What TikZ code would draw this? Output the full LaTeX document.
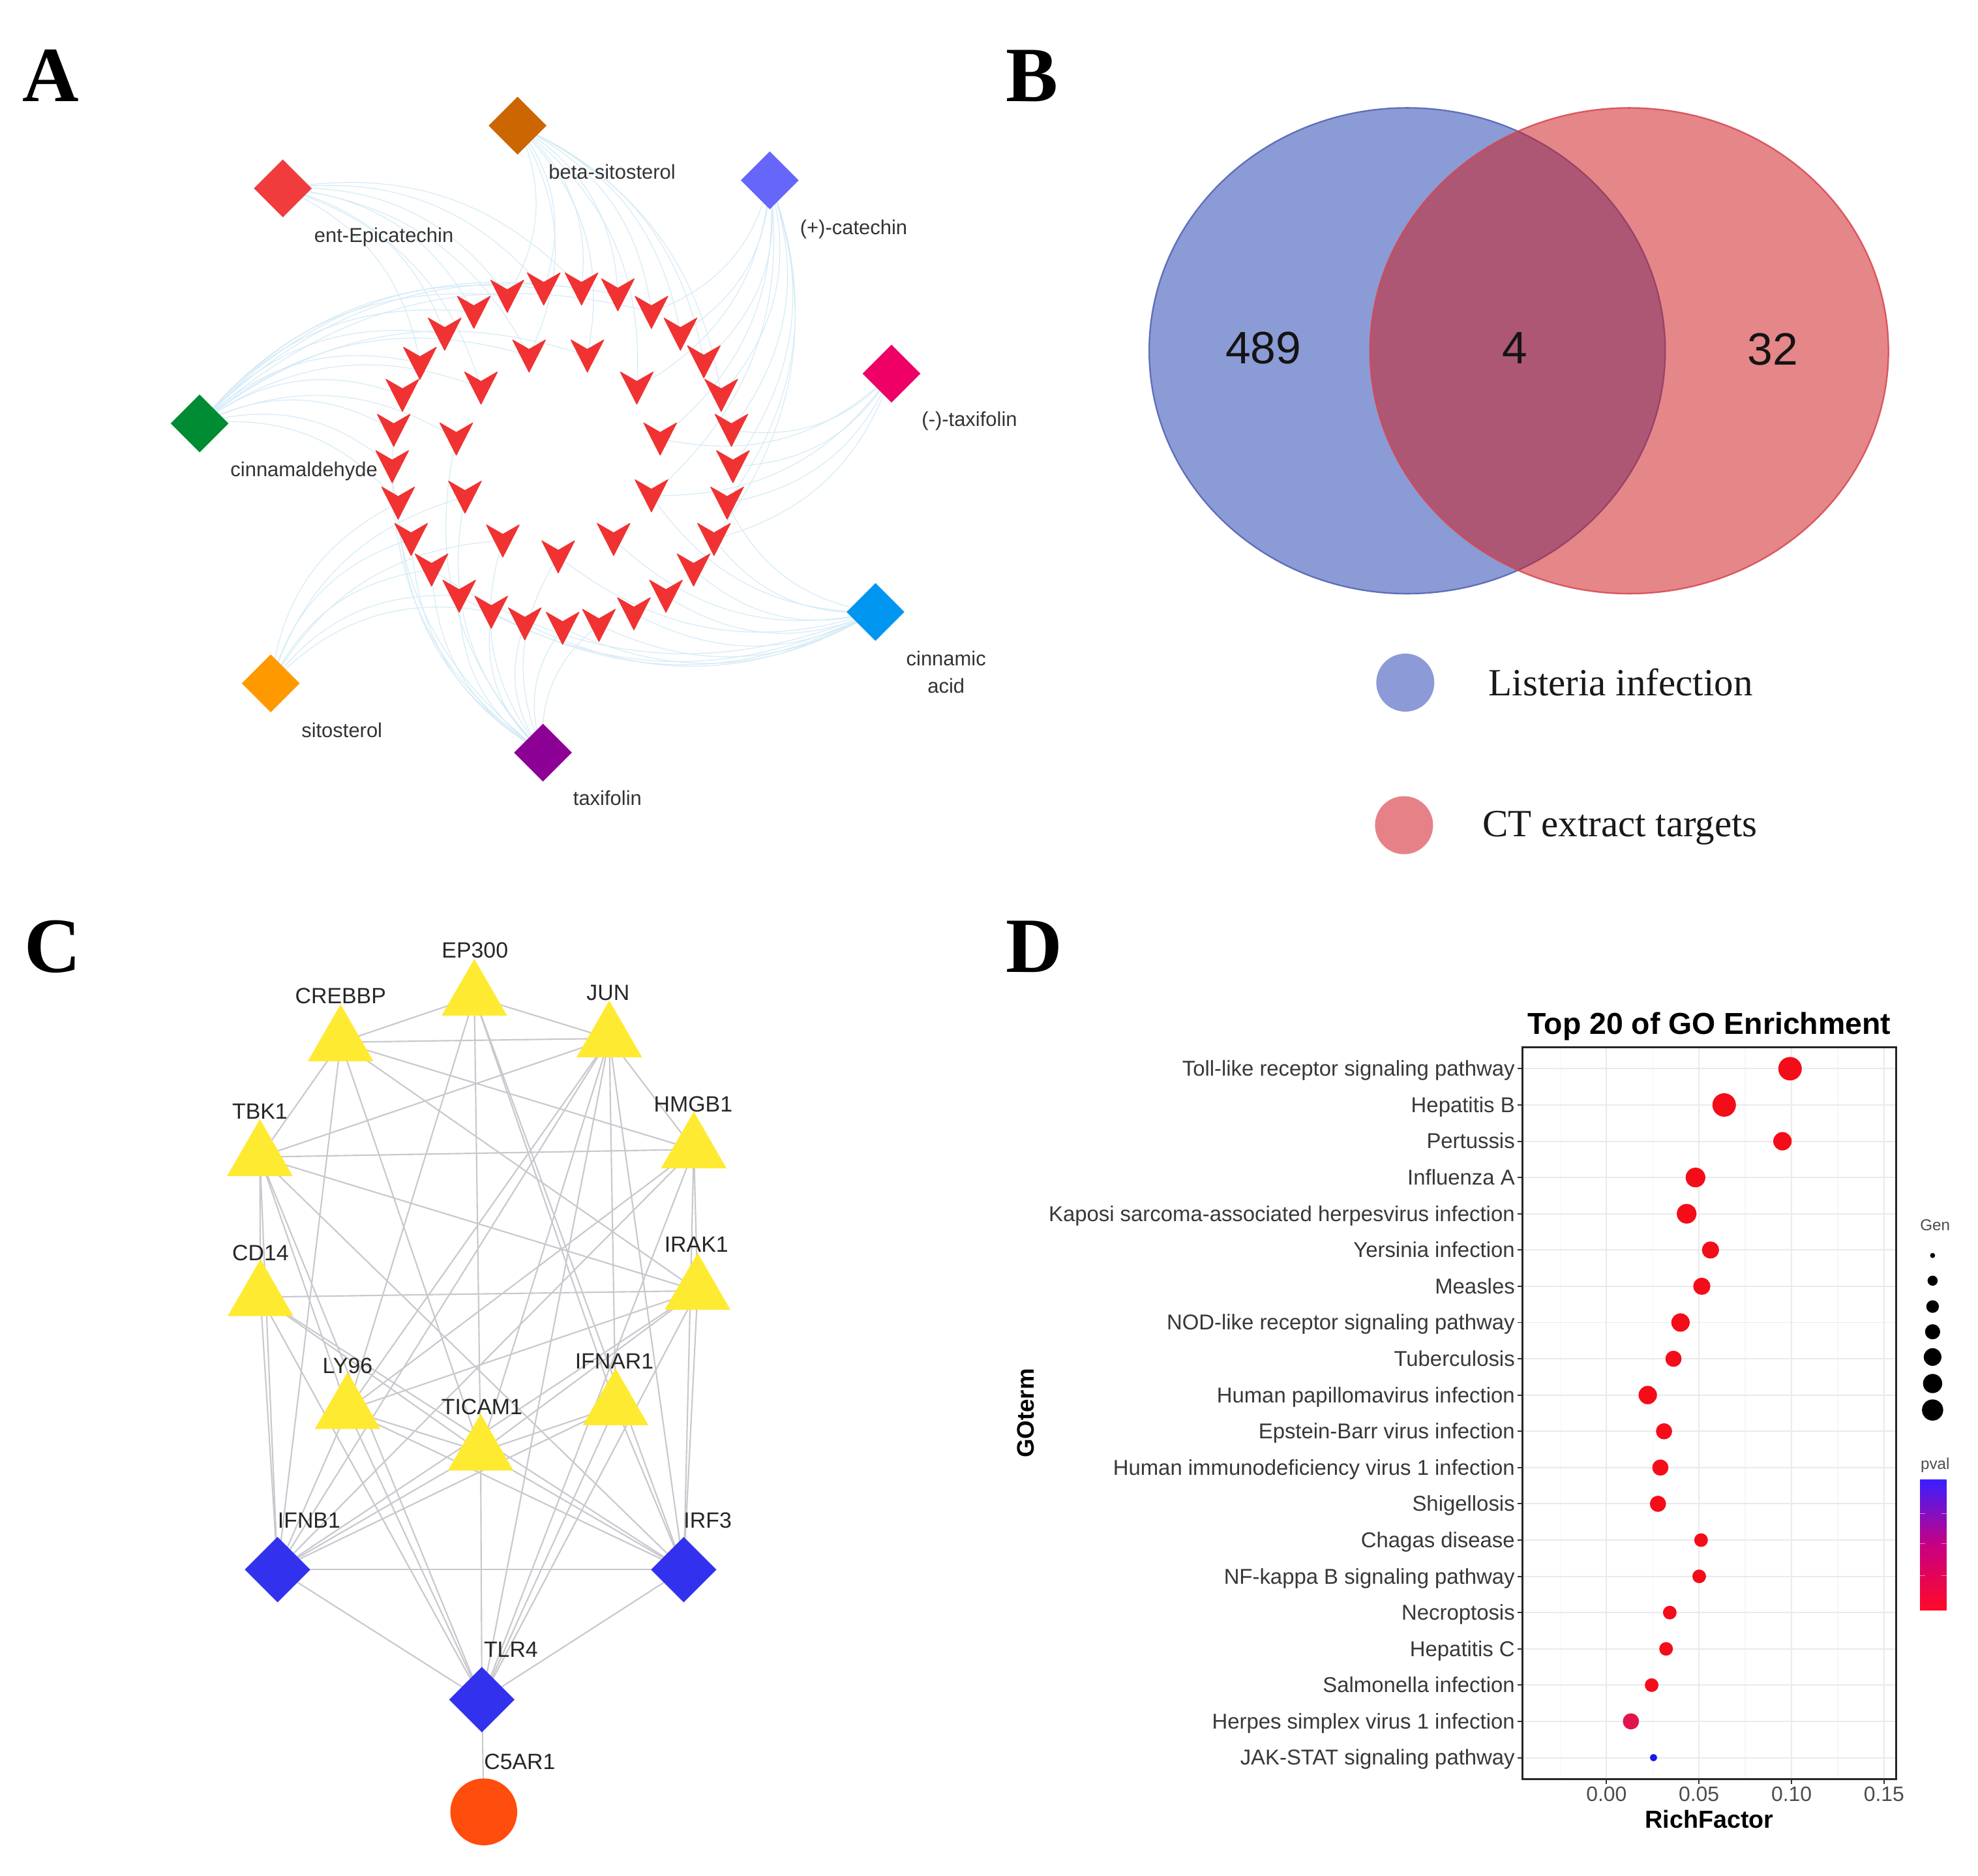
\documentclass[tikz,border=0pt]{standalone}
\usepackage{fontspec}
\setmainfont{Liberation Serif}
\setsansfont{Liberation Sans}
\usetikzlibrary{shapes.geometric,backgrounds}
\definecolor{cBrown}{RGB}{204,102,0}
\definecolor{cRedD}{RGB}{240,60,60}
\definecolor{cPeri}{RGB}{102,102,250}
\definecolor{cPink}{RGB}{238,0,102}
\definecolor{cGreen}{RGB}{0,140,50}
\definecolor{cSky}{RGB}{0,150,240}
\definecolor{cOrange}{RGB}{255,153,0}
\definecolor{cPurple}{RGB}{140,0,150}
\definecolor{chevred}{RGB}{240,50,50}
\definecolor{aedgec}{RGB}{212,235,246}
\definecolor{vblue}{RGB}{138,155,214}
\definecolor{vblueb}{RGB}{95,110,185}
\definecolor{vred}{RGB}{206,27,32}
\definecolor{vredb}{RGB}{215,70,80}
\definecolor{legblue}{RGB}{140,155,215}
\definecolor{legred}{RGB}{230,130,135}
\definecolor{tyellow}{RGB}{255,234,50}
\definecolor{dblue}{RGB}{50,50,238}
\definecolor{corange}{RGB}{255,77,13}
\definecolor{cedgec}{RGB}{200,200,206}
\definecolor{dotred}{RGB}{245,12,25}
\definecolor{dotcrim}{RGB}{225,20,75}
\definecolor{dotblue}{RGB}{25,25,235}
\definecolor{gridmaj}{RGB}{234,234,234}
\definecolor{gridmin}{RGB}{246,246,246}
\definecolor{cbtop}{RGB}{60,30,255}
\definecolor{cbmid}{RGB}{200,0,130}
\definecolor{cbbot}{RGB}{255,10,40}
\begin{document}
\begin{tikzpicture}[x=1pt,y=-1pt,
  panellbl/.style={font=\bfseries\fontsize{62}{62}\selectfont, inner sep=0, text height=41pt, text depth=0pt},
  lblA/.style={font=\sffamily\fontsize{16}{18}\selectfont, text=black!80, inner sep=0, text height=10.9pt, text depth=0pt},
  lblC/.style={font=\sffamily\fontsize{17.5}{20}\selectfont, text=black!85, inner sep=0, text height=12.5pt, text depth=0pt},
  lblD/.style={font=\sffamily\fontsize{17}{19}\selectfont, text=black!78, inner sep=0, text height=11.8pt, text depth=0pt},
  smallD/.style={font=\sffamily\fontsize{12.5}{14}\selectfont, text=black!70, inner sep=0, text height=8.6pt, text depth=0pt},
  adia/.style={diamond, minimum size=46pt, inner sep=0pt, draw=none},
  cdia/.style={diamond, minimum size=52pt, inner sep=0pt, fill=dblue, draw=none},
  ctri/.style={regular polygon, regular polygon sides=3, minimum size=60pt, inner sep=0pt, fill=tyellow, draw=none},
  aedge/.style={draw=aedgec, line width=0.6pt},
  cedge/.style={draw=cedgec, line width=1.1pt},
  chev/.pic={\fill[chevred, draw=chevred, line width=0.6pt, line join=round] (-13,-12.5) -- (0,-5) -- (13,-12.5) -- (0,13) -- cycle;},
  vennnum/.style={font=\sffamily\fontsize{36}{40}\selectfont, text=black!92, inner sep=0, text height=25.8pt, text depth=0pt},
  legtxt/.style={font=\fontsize{30.5}{34}\selectfont, text=black!90, inner sep=0, text height=20.2pt, text depth=0pt, anchor=west}
]
\useasboundingbox (0,0) rectangle (1568,1486.5);

%================ PANEL LABELS
\node[panellbl] (labA) at (40,60) {A};
\node[panellbl] (labB) at (818,60) {B};
\node[panellbl] (labC) at (42,750) {C};
\node[panellbl] (labD) at (820,750) {D};

%================ PANEL A
\coordinate (o1) at (402.1,234.6);
\coordinate (o2) at (431.0,228.8);
\coordinate (o3) at (461.0,228.8);
\coordinate (o4) at (489.8,233.4);
\coordinate (o5) at (516.4,247.3);
\coordinate (o6) at (539.4,264.6);
\coordinate (o7) at (557.9,286.5);
\coordinate (o8) at (571.7,313.1);
\coordinate (o9) at (579.8,340.8);
\coordinate (o10) at (581.0,369.6);
\coordinate (o11) at (576.4,398.5);
\coordinate (o12) at (566.0,427.3);
\coordinate (o13) at (549.8,451.5);
\coordinate (o14) at (527.9,472.3);
\coordinate (o15) at (502.5,486.2);
\coordinate (o16) at (474.8,495.4);
\coordinate (o17) at (446.0,497.7);
\coordinate (o18) at (416.0,494.2);
\coordinate (o19) at (389.4,485.0);
\coordinate (o20) at (364.0,472.3);
\coordinate (o21) at (342.1,451.5);
\coordinate (o22) at (325.9,427.3);
\coordinate (o23) at (315.6,398.5);
\coordinate (o24) at (310.9,369.6);
\coordinate (o25) at (312.1,340.8);
\coordinate (o26) at (319.0,313.1);
\coordinate (o27) at (332.9,287.7);
\coordinate (o28) at (352.5,264.6);
\coordinate (o29) at (375.6,247.3);
\coordinate (i1) at (419.4,281.9);
\coordinate (i2) at (465.6,281.9);
\coordinate (i3) at (504.8,307.3);
\coordinate (i4) at (523.3,347.7);
\coordinate (i5) at (516.4,392.7);
\coordinate (i6) at (486.4,427.3);
\coordinate (i7) at (442.5,441.1);
\coordinate (i8) at (398.6,428.5);
\coordinate (i9) at (368.6,393.8);
\coordinate (i10) at (361.7,347.7);
\coordinate (i11) at (381.3,307.3);

\node[adia, fill=cBrown] (dBS) at (410.3,99.6) {};
\node[adia, fill=cRedD] (dEE) at (224.2,149.3) {};
\node[adia, fill=cPeri] (dPC) at (610.2,142.9) {};
\node[adia, fill=cPink] (dMT) at (706.7,296.1) {};
\node[adia, fill=cGreen] (dCA) at (158.2,335.6) {};
\node[adia, fill=cSky] (dCN) at (694,485) {};
\node[adia, fill=cOrange] (dSI) at (214.6,541.6) {};
\node[adia, fill=cPurple] (dTX) at (430.4,596.5) {};

\begin{scope}[on background layer]
  \fill[white] (0,0) rectangle (1568,1486.5);
  \foreach \t in {o27,o28,o29,o1,o2,o3,i1,i11}
    \draw[aedge] (dEE.center) to[bend left=28] (\t);
  \foreach \t in {o1,o2,o3,o4,o5,o6,o7,o8,i1,i2,i3}
    \draw[aedge] (dBS.center) to[bend left=28] (\t);
  \foreach \t in {o5,o6,o7,o8,o9,o10,o11,o12,i3,i4,i5}
    \draw[aedge] (dPC.center) to[bend left=28] (\t);
  \foreach \t in {o9,o10,o11,o12,i4,i5}
    \draw[aedge] (dMT.center) to[bend left=28] (\t);
  \foreach \t in {o23,o24,o25,o26,o27,o28,o29,o1,o2,o3,o4,o5,i1,i2,i10,i11}
    \draw[aedge] (dCA.center) to[bend left=28] (\t);
  \foreach \t in {o11,o12,o13,o14,o15,o16,o17,o18,o19,o20,o21,i5,i6,i7}
    \draw[aedge] (dCN.center) to[bend left=28] (\t);
  \foreach \t in {o19,o20,o21,o22,o23,i8,i9}
    \draw[aedge] (dSI.center) to[bend left=28] (\t);
  \foreach \t in {o16,o17,o18,o19,o20,o21,o22,o23,o24,o25,i7,i8,i9,i10}
    \draw[aedge] (dTX.center) to[bend left=28] (\t);
\end{scope}

\foreach \c in {o1,o2,o3,o4,o5,o6,o7,o8,o9,o10,o11,o12,o13,o14,o15,o16,o17,o18,o19,o20,o21,o22,o23,o24,o25,o26,o27,o28,o29,i1,i2,i3,i4,i5,i6,i7,i8,i9,i10,i11}
  \pic at (\c) {chev};

\node[lblA] (tBS) at (485.2,136.5) {beta-sitosterol};
\node[lblA] (tEE) at (304.3,186.7) {ent-Epicatechin};
\node[lblA] (tPC) at (676.7,180.2) {(+)-catechin};
\node[lblA] (tMT) at (768.5,332.6) {(-)-taxifolin};
\node[lblA] (tCA) at (241,372) {cinnamaldehyde};
\node[lblA] (tCN1) at (750,522) {cinnamic};
\node[lblA] (tCN2) at (750,544) {acid};
\node[lblA] (tSI) at (271,579) {sitosterol};
\node[lblA] (tTX) at (481.5,632.6) {taxifolin};

%================ PANEL B
\fill[vblue] (1115.5,278) ellipse [x radius=204.5, y radius=192.5];
\draw[vblueb, line width=1.2pt] (1115.5,278) ellipse [x radius=204.5, y radius=192.5];
\fill[vred, fill opacity=0.53] (1291.5,278) ellipse [x radius=205.5, y radius=192.5];
\draw[vredb, line width=1.2pt, draw opacity=0.85] (1291.5,278) ellipse [x radius=205.5, y radius=192.5];
\node[vennnum] (n489) at (1001.5,275.3) {489};
\node[vennnum] (n4) at (1200.6,275.3) {4};
\node[vennnum] (n32) at (1405.5,276.6) {32};
\node[circle, fill=legblue, minimum size=46pt, inner sep=0] (legB) at (1114,541) {};
\node[circle, fill=legred, minimum size=46pt, inner sep=0] (legR) at (1113,654) {};
\node[legtxt] (legBt) at (1180,541) {Listeria infection};
\node[legtxt] (legRt) at (1175,653) {CT extract targets};

%================ PANEL C
\node[ctri] (EP) at (376,790) {};
\node[ctri] (CR) at (270,826) {};
\node[ctri] (JU) at (483,823) {};
\node[ctri] (TB) at (206,917) {};
\node[ctri] (HM) at (550,911) {};
\node[ctri] (CD) at (206.5,1028) {};
\node[ctri] (IR) at (553,1023) {};
\node[ctri] (LY) at (275.5,1117.5) {};
\node[ctri] (IF) at (488,1114.5) {};
\node[ctri] (TI) at (381,1150.5) {};
\node[cdia] (FN) at (220,1244) {};
\node[cdia] (R3) at (542,1244) {};
\node[cdia] (TL) at (382,1347) {};
\node[circle, fill=corange, minimum size=53pt, inner sep=0] (C5) at (383.5,1436) {};

\begin{scope}[on background layer]
  \foreach \a/\b in {EP/CR, EP/JU, EP/LY, EP/IF, EP/R3, EP/TI,
    CR/JU, CR/TB, CR/HM, CR/FN, CR/IR, CR/TI,
    JU/TB, JU/HM, JU/LY, JU/TI, JU/FN, JU/IF, JU/R3, JU/TL,
    TB/HM, TB/CD, TB/IR, TB/LY, TB/FN, TB/R3, TB/TL,
    HM/IR, HM/LY, HM/FN, HM/R3, HM/TL,
    CD/IR, CD/FN, CD/TI, CD/R3, CD/TL,
    IR/LY, IR/TI, IR/FN, IR/R3, IR/TL,
    LY/FN, LY/TI, LY/TL, LY/R3,
    TI/FN, TI/R3, TI/TL, TI/IF,
    IF/FN, IF/R3, IF/TL,
    FN/R3, FN/TL, R3/TL, TL/C5}
    \draw[cedge] (\a.center) -- (\b.center);
\end{scope}

\node[lblC] (tEP) at (376.5,753) {EP300};
\node[lblC] (tCR) at (270,789) {CREBBP};
\node[lblC] (tJU) at (482,786.5) {JUN};
\node[lblC] (tTB) at (206,880.5) {TBK1};
\node[lblC] (tHM) at (549.5,875) {HMGB1};
\node[lblC] (tCD) at (206.5,992.8) {CD14};
\node[lblC] (tIR) at (552,986) {IRAK1};
\node[lblC] (tLY) at (275.5,1082) {LY96};
\node[lblC] (tIF) at (487,1078.5) {IFNAR1};
\node[lblC] (tTI) at (382,1115) {TICAM1};
\node[lblC] (tFN) at (245,1205) {IFNB1};
\node[lblC] (tR3) at (561,1205) {IRF3};
\node[lblC] (tTL) at (405,1307) {TLR4};
\node[lblC] (tC5) at (412,1396) {C5AR1};

%================ PANEL D
\node[font=\sffamily\bfseries\fontsize{24}{26}\selectfont, inner sep=0, text height=17.2pt, text depth=0pt] (dtitle) at (1355,811) {Top 20 of GO Enrichment};
\foreach \gx in {1236.8,1310.2,1383.5,1456.8}
  \draw[gridmin, line width=0.8pt] (\gx,830) -- (\gx,1410);
\foreach \gx in {1273.5,1346.8,1420.2,1493.5}
  \draw[gridmaj, line width=1pt] (\gx,830) -- (\gx,1410);
\foreach \k in {1,...,20}{
  \pgfmathsetmacro\yy{847+(\k-1)*28.737}
  \draw[gridmaj, line width=1pt] (1207,\yy) -- (1503,\yy);
}
\foreach \k/\lab/\v/\r/\col in {
  1/Toll-like receptor signaling pathway/0.0992/9.3/dotred,
  2/Hepatitis B/0.0636/9.3/dotred,
  3/Pertussis/0.0951/7.3/dotred,
  4/Influenza A/0.0481/7.8/dotred,
  5/Kaposi sarcoma-associated herpesvirus infection/0.0433/7.8/dotred,
  6/Yersinia infection/0.0562/6.8/dotred,
  7/Measles/0.0515/6.8/dotred,
  8/NOD-like receptor signaling pathway/0.0400/7.3/dotred,
  9/Tuberculosis/0.0362/6.4/dotred,
  10/Human papillomavirus infection/0.0223/7.3/dotred,
  11/Epstein-Barr virus infection/0.0311/6.4/dotred,
  12/Human immunodeficiency virus 1 infection/0.0291/6.4/dotred,
  13/Shigellosis/0.0278/6.4/dotred,
  14/Chagas disease/0.0511/5.4/dotred,
  15/NF-kappa B signaling pathway/0.0501/5.4/dotred,
  16/Necroptosis/0.0342/5.4/dotred,
  17/Hepatitis C/0.0322/5.4/dotred,
  18/Salmonella infection/0.0244/5.4/dotred,
  19/Herpes simplex virus 1 infection/0.0132/6.4/dotcrim,
  20/JAK-STAT signaling pathway/0.0254/2.9/dotblue}{
  \pgfmathsetmacro\yy{847+(\k-1)*28.737}
  \pgfmathsetmacro\xx{1273.5+\v*1466.7}
  \pgfmathsetmacro\dd{2*\r}
  \node[circle, fill=\col, minimum size=\dd pt, inner sep=0] (pt\k) at (\xx,\yy) {};
  \draw[black!80, line width=1pt] (1203,\yy) -- (1207,\yy);
  \node[lblD, anchor=east] (go\k) at (1201,\yy) {\lab};
}
\draw[black!85, line width=1.6pt] (1207,830) rectangle (1503,1410);
\foreach \gx/\tl in {1273.5/0.00,1346.8/0.05,1420.2/0.10,1493.5/0.15}{
  \draw[black!80, line width=1pt] (\gx,1410) -- (\gx,1414);
  \node[font=\sffamily\fontsize{16.5}{18}\selectfont, text=black!70, inner sep=0, text height=11.8pt, text depth=0pt] (xt\tl) at (\gx,1421.5) {\tl};
}
\node[font=\sffamily\bfseries\fontsize{19.5}{21}\selectfont, inner sep=0, text height=14pt, text depth=0pt] (xlab) at (1355,1442) {RichFactor};
\node[font=\sffamily\bfseries\fontsize{19}{21}\selectfont, inner sep=0, text height=13.6pt, text depth=0pt, rotate=90] (ylab) at (813,1120) {GOterm};
\node[smallD] (genlab) at (1534,971) {Gen};
\foreach \j/\gy/\gr in {1/995/2,2/1015/4,3/1035.5/5,4/1055.5/6,5/1075.5/7,6/1096.5/7.6,7/1117.5/8.4}{
  \pgfmathsetmacro\gd{2*\gr}
  \node[circle, fill=black, minimum size=\gd pt, inner sep=0] (gen\j) at (1532,\gy) {};
}
\node[smallD] (pvallab) at (1534,1160) {pval};
\shade[top color=cbtop, bottom color=cbbot, middle color=cbmid] (1522,1173) rectangle (1543,1276);
\foreach \ty in {1199.6,1223.5,1248.7}{
  \draw[white, opacity=0.5, line width=0.8pt] (1522,\ty) -- (1526,\ty);
  \draw[white, opacity=0.5, line width=0.8pt] (1539,\ty) -- (1543,\ty);
}
\end{tikzpicture}
\end{document}
